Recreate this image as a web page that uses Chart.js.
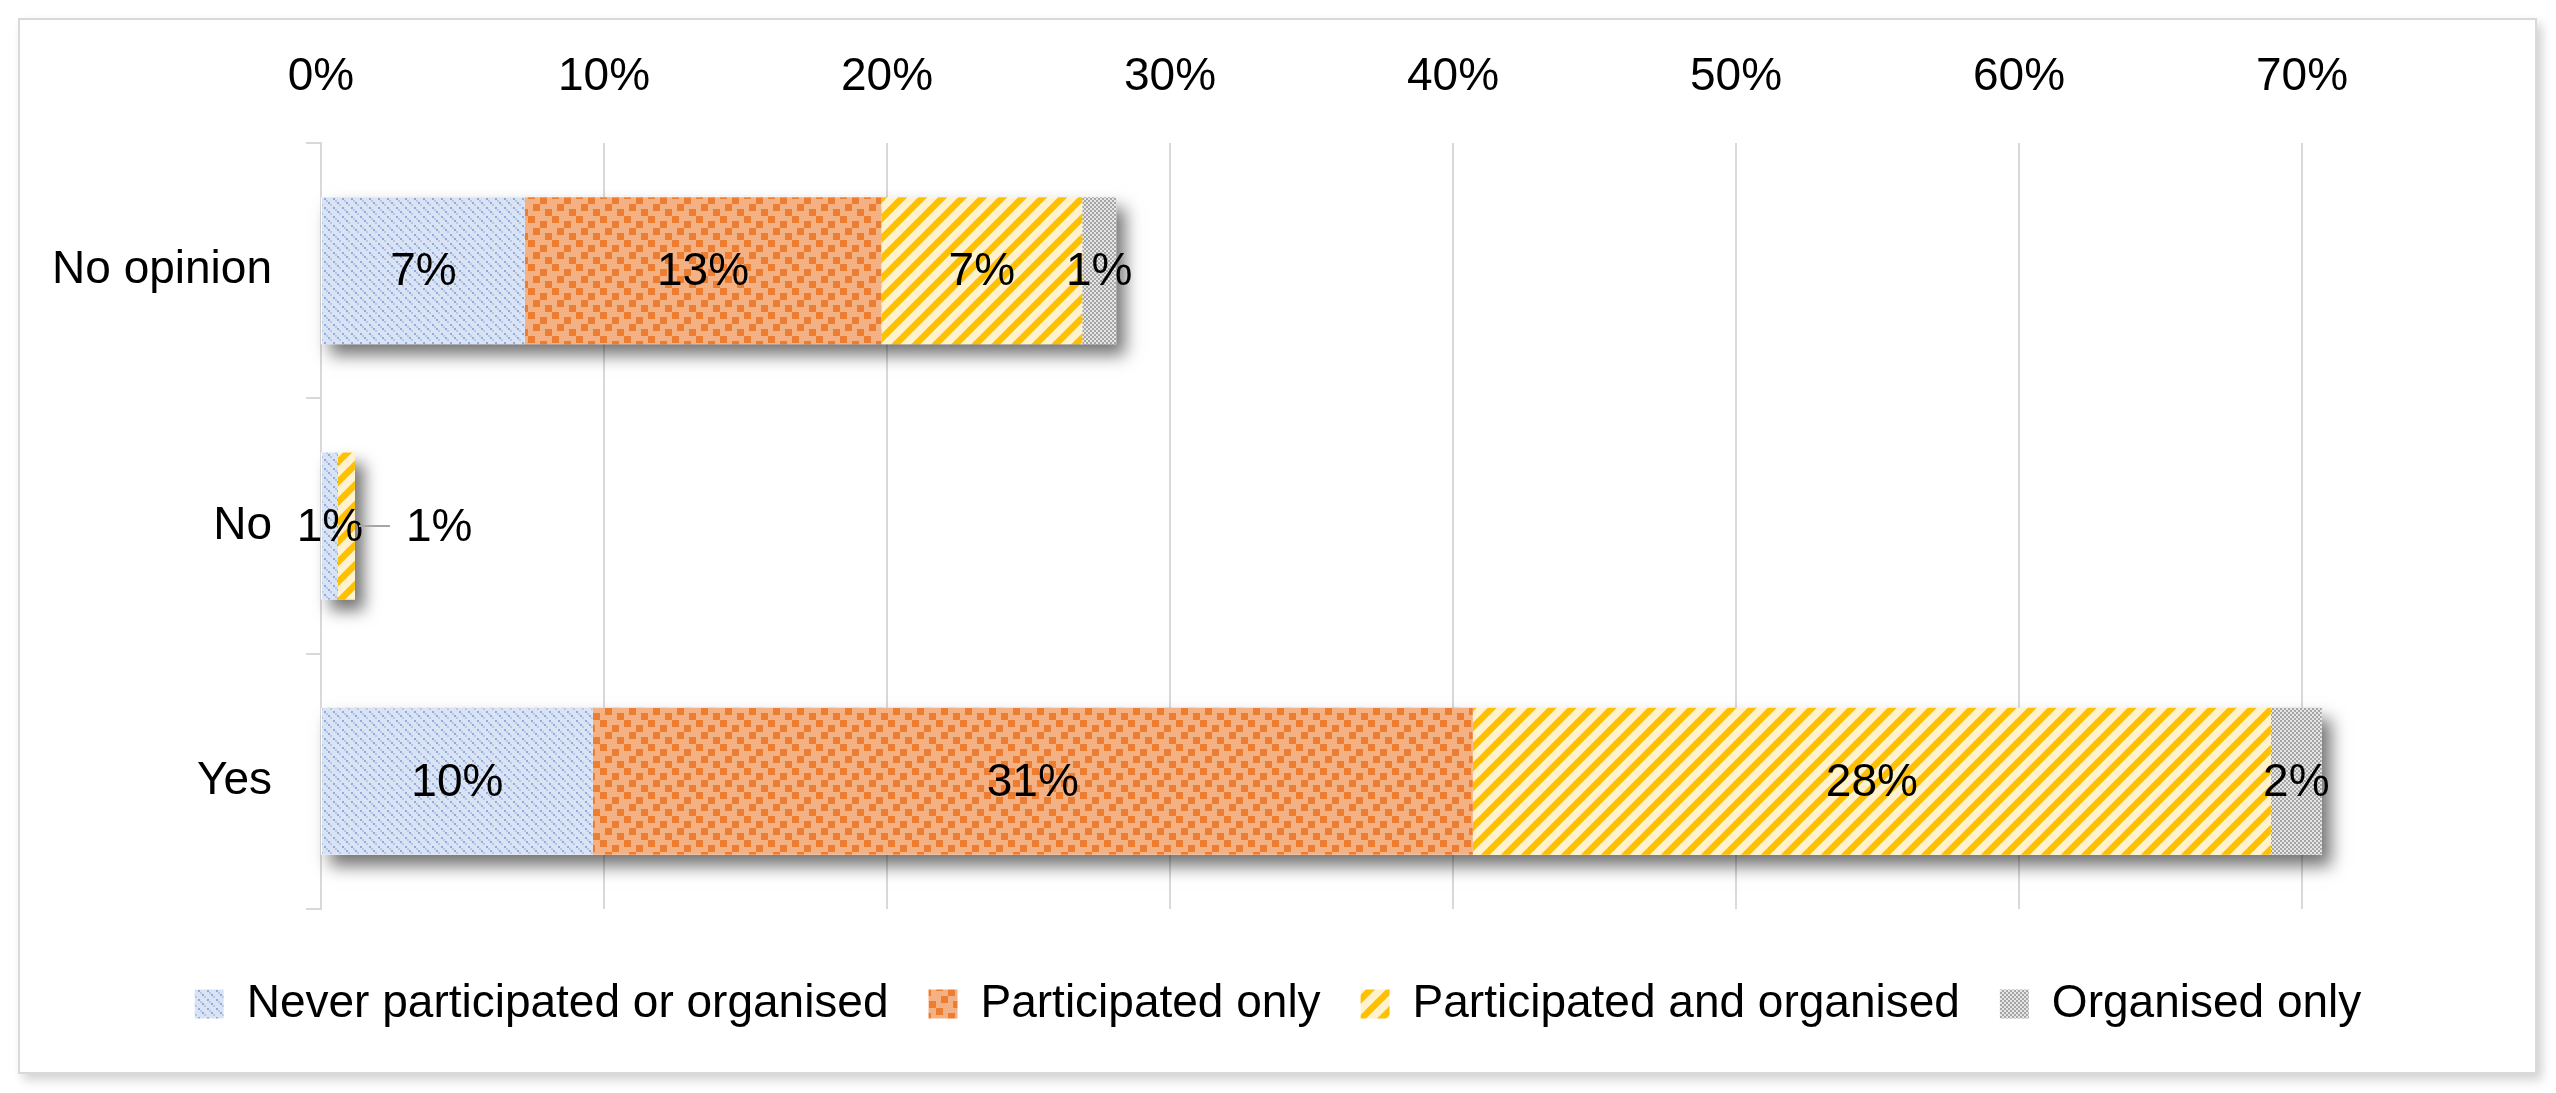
<!DOCTYPE html>
<html>
<head>
<meta charset="utf-8">
<script src="https://cdn.jsdelivr.net/npm/chart.js@4.4.1/dist/chart.umd.min.js"></script>
<style>
    html, body { margin: 0; padding: 0; background: #fff; }
    body { width: 2556px; height: 1093px; position: relative; overflow: hidden; }
    #frame {
        position: absolute; left: 18px; top: 18px; width: 2515px; height: 1052px;
        border: 2px solid #d9d9d9; background: #fff;
        box-shadow: 5px 6px 10px rgba(0, 0, 0, 0.18);
    }
    #myChart { position: absolute; left: 0; top: 0; }
</style>
</head>
<body>
<div id="frame"></div>
<canvas id="myChart" width="2556" height="1093"></canvas>
<script>
//Data-----------------------------------------------------
const categories = ['No opinion', 'No', 'Yes'];
const seriesNames = ['Never participated or organised', 'Participated only', 'Participated and organised', 'Organised only'];
const neverValues = [0.072, 0.006, 0.096];
const participatedValues = [0.126, 0, 0.311];
const bothValues = [0.071, 0.006, 0.282];
const organisedValues = [0.012, 0, 0.018];

const fontFamily = '"Liberation Sans", Arial, sans-serif';
const fontSize = 46;

//Patterns-------------------------------------------------
function makePattern(w, h, draw) {
    const c = document.createElement('canvas');
    c.width = w;
    c.height = h;
    const g = c.getContext('2d');
    draw(g);
    return g.createPattern(c, 'repeat');
}

// light downward diagonal, dotted blue
const bluePattern = makePattern(9, 9, g => {
    g.fillStyle = '#dae3f3';
    g.fillRect(0, 0, 9, 9);
    g.fillStyle = '#8faadc';
    g.fillRect(0, 0, 2, 2);
    g.fillRect(4, 4, 2, 2);
    g.fillStyle = '#b4c7e7';
    g.fillRect(2, 2, 2, 2);
    g.fillRect(6, 6, 2, 2);
});

// confetti orange
const orangePattern = makePattern(24, 24, g => {
    g.fillStyle = '#f4b183';
    g.fillRect(0, 0, 24, 24);
    g.fillStyle = '#ed7d31';
    g.fillRect(0, 0, 7, 7);
    g.fillRect(12, 5, 7, 7);
    g.fillRect(5, 12, 7, 7);
    g.fillRect(17, 17, 7, 7);
});

// wide upward diagonal yellow
const yellowPattern = makePattern(20, 20, g => {
    g.fillStyle = '#fff2cc';
    g.fillRect(0, 0, 20, 20);
    g.strokeStyle = '#ffc000';
    g.lineWidth = 6.5;
    [[-10, 10, 10, -10], [0, 20, 20, 0], [10, 30, 30, 10]].forEach(l => {
        g.beginPath();
        g.moveTo(l[0], l[1]);
        g.lineTo(l[2], l[3]);
        g.stroke();
    });
});

// 50% grey checker
const greyPattern = makePattern(4, 4, g => {
    g.fillStyle = '#e6e6e6';
    g.fillRect(0, 0, 4, 4);
    g.fillStyle = '#a5a5a5';
    g.fillRect(0, 0, 2, 2);
    g.fillRect(2, 2, 2, 2);
});

//Plugins--------------------------------------------------

// soft shadow behind each whole bar
const barShadow = {
    id: 'barShadow',
    beforeDatasetsDraw(chart) {
        const ctx = chart.ctx;
        const x = chart.scales.x;
        const bars = chart.getDatasetMeta(0).data;
        ctx.save();
        ctx.shadowColor = 'rgba(0,0,0,0.55)';
        ctx.shadowBlur = 16;
        ctx.shadowOffsetX = 9;
        ctx.shadowOffsetY = 11;
        ctx.fillStyle = '#ffffff';
        bars.forEach((bar, i) => {
            const total = chart.data.datasets.reduce((s, ds) => s + ds.data[i], 0);
            const left = x.getPixelForValue(0);
            const right = x.getPixelForValue(total);
            ctx.fillRect(left, bar.y - bar.height / 2, right - left, bar.height);
        });
        ctx.restore();
    }
};

// percentage labels in the middle of each segment
const segLabels = {
    id: 'segLabels',
    afterDatasetsDraw(chart) {
        const ctx = chart.ctx;
        ctx.save();
        ctx.font = fontSize + 'px ' + fontFamily;
        ctx.fillStyle = '#000';
        ctx.textAlign = 'center';
        ctx.textBaseline = 'middle';
        chart.data.labels.forEach((lab, i) => {
            let prevRight = -Infinity;
            chart.data.datasets.forEach((ds, d) => {
                const v = ds.data[i];
                if (!v) return;
                const bar = chart.getDatasetMeta(d).data[i];
                const txt = Math.round(v * 100) + '%';
                const w = ctx.measureText(txt).width;
                let cx = (bar.base + bar.x) / 2;
                if (cx - w / 2 < prevRight) {
                    // no room: put it outside with a leader line
                    ctx.strokeStyle = '#a6a6a6';
                    ctx.lineWidth = 2;
                    ctx.beginPath();
                    ctx.moveTo(bar.x + 4, bar.y);
                    ctx.lineTo(bar.x + 35, bar.y);
                    ctx.stroke();
                    cx = bar.x + 51 + w / 2;
                }
                ctx.fillText(txt, cx, bar.y + 2);
                prevRight = cx + w / 2;
            });
        });
        ctx.restore();
    }
};

//Chart----------------------------------------------------
const data = {
    labels: categories,
    datasets: [
        { label: seriesNames[0], data: neverValues, backgroundColor: bluePattern },
        { label: seriesNames[1], data: participatedValues, backgroundColor: orangePattern },
        { label: seriesNames[2], data: bothValues, backgroundColor: yellowPattern },
        { label: seriesNames[3], data: organisedValues, backgroundColor: greyPattern }
    ]
};

const options = {
    indexAxis: 'y',
    responsive: false,
    animation: false,
    devicePixelRatio: 1,
    layout: { padding: { left: 0, top: 0, right: 0, bottom: 56 } },
    datasets: {
        bar: { categoryPercentage: 1, barPercentage: 0.576, borderWidth: 0, clip: false }
    },
    scales: {
        x: {
            position: 'top',
            stacked: true,
            min: 0,
            max: 0.7,
            ticks: {
                stepSize: 0.1,
                color: '#000',
                padding: 38,
                font: { family: fontFamily, size: fontSize },
                callback: v => Math.round(v * 100) + '%'
            },
            grid: { color: '#d9d9d9', lineWidth: 2, drawTicks: false },
            border: { display: false },
            afterFit(scale) { scale.height = 143; }
        },
        y: {
            stacked: true,
            ticks: {
                color: '#000',
                padding: 34,
                font: { family: fontFamily, size: fontSize }
            },
            grid: { drawOnChartArea: false, color: '#d9d9d9', lineWidth: 2, tickLength: 15 },
            border: { color: '#d9d9d9', width: 2 },
            afterFit(scale) { scale.width = 321; }
        },
        // empty right margin so the legend keeps the full width
        yRight: {
            type: 'category',
            position: 'right',
            ticks: { display: false },
            grid: { display: false },
            border: { display: false },
            afterFit(scale) { scale.width = 254; }
        }
    },
    plugins: {
        tooltip: { enabled: false },
        legend: {
            position: 'bottom',
            title: { display: true, text: '', font: { size: 10, lineHeight: 1 }, padding: { top: 22, bottom: 0 } },
            labels: {
                boxWidth: 29,
                boxHeight: 29,
                padding: 40,
                color: '#000',
                font: { family: fontFamily, size: fontSize }
            }
        }
    }
};

const myChart = new Chart(document.getElementById('myChart'), {
    type: 'bar',
    data,
    options,
    plugins: [barShadow, segLabels]
});
</script>
</body>
</html>
